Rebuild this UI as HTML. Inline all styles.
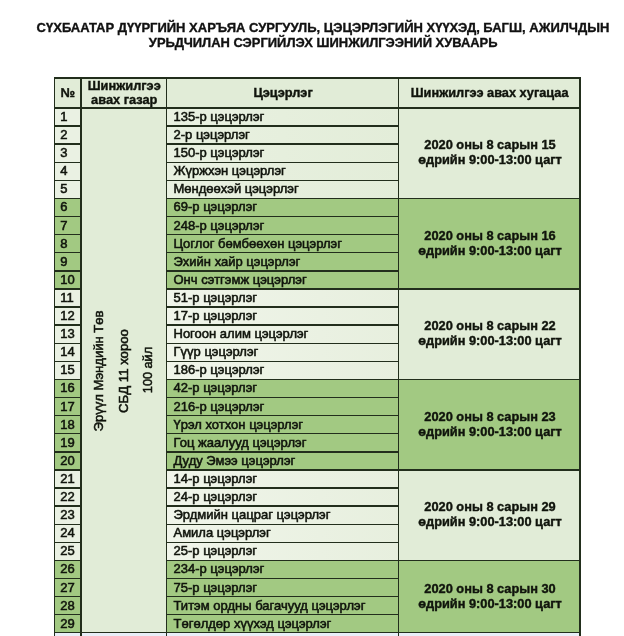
<!DOCTYPE html><html lang="mn"><head><meta charset="utf-8"><title>Хуваарь</title><style>
html,body{margin:0;padding:0;background:#fff}
body{width:624px;height:636px;position:relative;overflow:hidden;font-family:"Liberation Sans",Arial,sans-serif;color:#10140c}
.a{position:absolute}
.bg{position:absolute}
.ln{position:absolute;background:#222e1c}
.t{position:absolute;white-space:nowrap;line-height:1}
.title{left:0;width:646px;text-align:center;font-weight:bold;font-size:13px;color:#111;-webkit-text-stroke:0.35px #111}
.num{font-size:13px;left:60.2px;-webkit-text-stroke:0.55px #10140c}
.nm{font-size:13px;left:173.5px;-webkit-text-stroke:0.55px #10140c}
.hd{font-weight:bold;font-size:12.8px;text-align:center;-webkit-text-stroke:0.4px #10140c}
.dt{font-weight:bold;font-size:12.8px;-webkit-text-stroke:0.4px #10140c;text-align:center;left:398.7px;width:181.3px;margin-left:0.7px;line-height:15.2px}
.vt{position:absolute;white-space:nowrap;font-size:13px;-webkit-text-stroke:0.55px #10140c;line-height:1;transform:translate(-50%,-50%) rotate(-90deg);transform-origin:center}

</style></head><body>
<div class="t title" style="top:21px;transform:translateY(0.4px)">СҮХБААТАР ДҮҮРГИЙН ХАРЪЯА СУРГУУЛЬ, ЦЭЦЭРЛЭГИЙН ХҮҮХЭД, БАГШ, АЖИЛЧДЫН</div>
<div class="t title" style="top:37px;font-size:12.94px;transform:translate(0.2px,0.2px)">УРЬДЧИЛАН СЭРГИЙЛЭХ ШИНЖИЛГЭЭНИЙ ХУВААРЬ</div>
<div class="bg" style="left:54.4px;top:77.9px;width:525.6px;height:30.0px;background:#e1ecd7"></div>
<div class="bg" style="left:81.0px;top:108.0px;width:85.3px;height:524.8px;background:#e1ecd7"></div>
<div class="bg" style="left:54.4px;top:107.95px;width:26.6px;height:90.49px;background:#eaf1e3"></div>
<div class="bg" style="left:166.3px;top:107.95px;width:232.4px;height:90.49px;background:linear-gradient(90deg,#e9f1e1,#e3edd9)"></div>
<div class="bg" style="left:398.7px;top:107.95px;width:181.3px;height:90.49px;background:#e1ecd7"></div>
<div class="bg" style="left:54.4px;top:198.44px;width:26.6px;height:90.49px;background:#a2c982"></div>
<div class="bg" style="left:166.3px;top:198.44px;width:413.7px;height:90.49px;background:#a2c982"></div>
<div class="bg" style="left:54.4px;top:288.93px;width:26.6px;height:90.49px;background:#eaf1e3"></div>
<div class="bg" style="left:166.3px;top:288.93px;width:232.4px;height:90.49px;background:linear-gradient(90deg,#f0f5ea,#e7efde)"></div>
<div class="bg" style="left:398.7px;top:288.93px;width:181.3px;height:90.49px;background:#e1ecd7"></div>
<div class="bg" style="left:54.4px;top:379.42px;width:26.6px;height:90.49px;background:#a2c982"></div>
<div class="bg" style="left:166.3px;top:379.42px;width:413.7px;height:90.49px;background:#a2c982"></div>
<div class="bg" style="left:54.4px;top:469.91px;width:26.6px;height:90.49px;background:#eaf1e3"></div>
<div class="bg" style="left:166.3px;top:469.91px;width:232.4px;height:90.49px;background:linear-gradient(90deg,#f0f5ea,#e7efde)"></div>
<div class="bg" style="left:398.7px;top:469.91px;width:181.3px;height:90.49px;background:#e1ecd7"></div>
<div class="bg" style="left:54.4px;top:560.40px;width:26.6px;height:72.39px;background:#a2c982"></div>
<div class="bg" style="left:166.3px;top:560.40px;width:413.7px;height:72.39px;background:#a2c982"></div>
<div class="bg" style="left:54.4px;top:632.79px;width:525.6px;height:6px;background:#e9eff8"></div>
<div class="ln" style="left:53.70px;top:77.20px;width:1.40px;height:562.10px"></div>
<div class="ln" style="left:80.30px;top:77.20px;width:1.40px;height:562.10px"></div>
<div class="ln" style="left:165.60px;top:77.20px;width:1.40px;height:562.10px"></div>
<div class="ln" style="left:398.00px;top:77.20px;width:1.40px;height:562.10px"></div>
<div class="ln" style="left:579.30px;top:77.20px;width:1.40px;height:562.10px"></div>
<div class="ln" style="left:53.70px;top:77.20px;width:527.00px;height:1.40px"></div>
<div class="ln" style="left:53.70px;top:107.25px;width:527.00px;height:1.40px"></div>
<div class="ln" style="left:54.40px;top:125.35px;width:26.60px;height:1.40px"></div>
<div class="ln" style="left:166.30px;top:125.35px;width:232.40px;height:1.40px"></div>
<div class="ln" style="left:54.40px;top:143.45px;width:26.60px;height:1.40px"></div>
<div class="ln" style="left:166.30px;top:143.45px;width:232.40px;height:1.40px"></div>
<div class="ln" style="left:54.40px;top:161.54px;width:26.60px;height:1.40px"></div>
<div class="ln" style="left:166.30px;top:161.54px;width:232.40px;height:1.40px"></div>
<div class="ln" style="left:54.40px;top:179.64px;width:26.60px;height:1.40px"></div>
<div class="ln" style="left:166.30px;top:179.64px;width:232.40px;height:1.40px"></div>
<div class="ln" style="left:54.40px;top:197.74px;width:26.60px;height:1.40px"></div>
<div class="ln" style="left:166.30px;top:197.74px;width:413.70px;height:1.40px"></div>
<div class="ln" style="left:54.40px;top:215.84px;width:26.60px;height:1.40px"></div>
<div class="ln" style="left:166.30px;top:215.84px;width:232.40px;height:1.40px"></div>
<div class="ln" style="left:54.40px;top:233.94px;width:26.60px;height:1.40px"></div>
<div class="ln" style="left:166.30px;top:233.94px;width:232.40px;height:1.40px"></div>
<div class="ln" style="left:54.40px;top:252.03px;width:26.60px;height:1.40px"></div>
<div class="ln" style="left:166.30px;top:252.03px;width:232.40px;height:1.40px"></div>
<div class="ln" style="left:54.40px;top:270.13px;width:26.60px;height:1.40px"></div>
<div class="ln" style="left:166.30px;top:270.13px;width:232.40px;height:1.40px"></div>
<div class="ln" style="left:54.40px;top:288.23px;width:26.60px;height:1.40px"></div>
<div class="ln" style="left:166.30px;top:288.23px;width:413.70px;height:1.40px"></div>
<div class="ln" style="left:54.40px;top:306.33px;width:26.60px;height:1.40px"></div>
<div class="ln" style="left:166.30px;top:306.33px;width:232.40px;height:1.40px"></div>
<div class="ln" style="left:54.40px;top:324.43px;width:26.60px;height:1.40px"></div>
<div class="ln" style="left:166.30px;top:324.43px;width:232.40px;height:1.40px"></div>
<div class="ln" style="left:54.40px;top:342.52px;width:26.60px;height:1.40px"></div>
<div class="ln" style="left:166.30px;top:342.52px;width:232.40px;height:1.40px"></div>
<div class="ln" style="left:54.40px;top:360.62px;width:26.60px;height:1.40px"></div>
<div class="ln" style="left:166.30px;top:360.62px;width:232.40px;height:1.40px"></div>
<div class="ln" style="left:54.40px;top:378.72px;width:26.60px;height:1.40px"></div>
<div class="ln" style="left:166.30px;top:378.72px;width:413.70px;height:1.40px"></div>
<div class="ln" style="left:54.40px;top:396.82px;width:26.60px;height:1.40px"></div>
<div class="ln" style="left:166.30px;top:396.82px;width:232.40px;height:1.40px"></div>
<div class="ln" style="left:54.40px;top:414.92px;width:26.60px;height:1.40px"></div>
<div class="ln" style="left:166.30px;top:414.92px;width:232.40px;height:1.40px"></div>
<div class="ln" style="left:54.40px;top:433.01px;width:26.60px;height:1.40px"></div>
<div class="ln" style="left:166.30px;top:433.01px;width:232.40px;height:1.40px"></div>
<div class="ln" style="left:54.40px;top:451.11px;width:26.60px;height:1.40px"></div>
<div class="ln" style="left:166.30px;top:451.11px;width:232.40px;height:1.40px"></div>
<div class="ln" style="left:54.40px;top:469.21px;width:26.60px;height:1.40px"></div>
<div class="ln" style="left:166.30px;top:469.21px;width:413.70px;height:1.40px"></div>
<div class="ln" style="left:54.40px;top:487.31px;width:26.60px;height:1.40px"></div>
<div class="ln" style="left:166.30px;top:487.31px;width:232.40px;height:1.40px"></div>
<div class="ln" style="left:54.40px;top:505.41px;width:26.60px;height:1.40px"></div>
<div class="ln" style="left:166.30px;top:505.41px;width:232.40px;height:1.40px"></div>
<div class="ln" style="left:54.40px;top:523.50px;width:26.60px;height:1.40px"></div>
<div class="ln" style="left:166.30px;top:523.50px;width:232.40px;height:1.40px"></div>
<div class="ln" style="left:54.40px;top:541.60px;width:26.60px;height:1.40px"></div>
<div class="ln" style="left:166.30px;top:541.60px;width:232.40px;height:1.40px"></div>
<div class="ln" style="left:54.40px;top:559.70px;width:26.60px;height:1.40px"></div>
<div class="ln" style="left:166.30px;top:559.70px;width:413.70px;height:1.40px"></div>
<div class="ln" style="left:54.40px;top:577.80px;width:26.60px;height:1.40px"></div>
<div class="ln" style="left:166.30px;top:577.80px;width:232.40px;height:1.40px"></div>
<div class="ln" style="left:54.40px;top:595.90px;width:26.60px;height:1.40px"></div>
<div class="ln" style="left:166.30px;top:595.90px;width:232.40px;height:1.40px"></div>
<div class="ln" style="left:54.40px;top:613.99px;width:26.60px;height:1.40px"></div>
<div class="ln" style="left:166.30px;top:613.99px;width:232.40px;height:1.40px"></div>
<div class="ln" style="left:54.40px;top:632.09px;width:525.60px;height:1.40px"></div>
<div class="t hd" style="left:54.4px;width:26.6px;top:87.3px">№</div>
<div class="t hd" style="left:81.6px;width:85.3px;top:79px;line-height:13.7px">Шинжилгээ<br>авах газар</div>
<div class="t hd" style="left:166.9px;width:232.4px;top:87px">Цэцэрлэг</div>
<div class="t hd" style="left:399.0px;width:181.3px;top:87.3px;font-size:12.75px">Шинжилгээ авах хугацаа</div>
<div class="t num" style="top:109.95px">1</div>
<div class="t nm" style="top:109.95px">135-р цэцэрлэг</div>
<div class="t num" style="top:128.05px">2</div>
<div class="t nm" style="top:128.05px">2-р цэцэрлэг</div>
<div class="t num" style="top:146.15px">3</div>
<div class="t nm" style="top:146.15px">150-р цэцэрлэг</div>
<div class="t num" style="top:164.24px">4</div>
<div class="t nm" style="top:164.24px">Жүржхэн цэцэрлэг</div>
<div class="t num" style="top:182.34px">5</div>
<div class="t nm" style="top:182.34px">Мөндөөхэй цэцэрлэг</div>
<div class="t num" style="top:200.44px">6</div>
<div class="t nm" style="top:200.44px">69-р цэцэрлэг</div>
<div class="t num" style="top:218.54px">7</div>
<div class="t nm" style="top:218.54px">248-р цэцэрлэг</div>
<div class="t num" style="top:236.64px">8</div>
<div class="t nm" style="top:236.64px">Цоглог бөмбөөхөн цэцэрлэг</div>
<div class="t num" style="top:254.73px">9</div>
<div class="t nm" style="top:254.73px">Эхийн хайр цэцэрлэг</div>
<div class="t num" style="top:272.83px">10</div>
<div class="t nm" style="top:272.83px">Онч сэтгэмж цэцэрлэг</div>
<div class="t num" style="top:290.93px">11</div>
<div class="t nm" style="top:290.93px">51-р цэцэрлэг</div>
<div class="t num" style="top:309.03px">12</div>
<div class="t nm" style="top:309.03px">17-р цэцэрлэг</div>
<div class="t num" style="top:327.13px">13</div>
<div class="t nm" style="top:327.13px">Ногоон алим цэцэрлэг</div>
<div class="t num" style="top:345.22px">14</div>
<div class="t nm" style="top:345.22px">Гүүр цэцэрлэг</div>
<div class="t num" style="top:363.32px">15</div>
<div class="t nm" style="top:363.32px">186-р цэцэрлэг</div>
<div class="t num" style="top:381.42px">16</div>
<div class="t nm" style="top:381.42px">42-р цэцэрлэг</div>
<div class="t num" style="top:399.52px">17</div>
<div class="t nm" style="top:399.52px">216-р цэцэрлэг</div>
<div class="t num" style="top:417.62px">18</div>
<div class="t nm" style="top:417.62px">Үрэл хотхон цэцэрлэг</div>
<div class="t num" style="top:435.71px">19</div>
<div class="t nm" style="top:435.71px">Гоц жаалууд цэцэрлэг</div>
<div class="t num" style="top:453.81px">20</div>
<div class="t nm" style="top:453.81px">Дуду Эмээ цэцэрлэг</div>
<div class="t num" style="top:471.91px">21</div>
<div class="t nm" style="top:471.91px">14-р цэцэрлэг</div>
<div class="t num" style="top:490.01px">22</div>
<div class="t nm" style="top:490.01px">24-р цэцэрлэг</div>
<div class="t num" style="top:508.11px">23</div>
<div class="t nm" style="top:508.11px">Эрдмийн цацраг цэцэрлэг</div>
<div class="t num" style="top:526.20px">24</div>
<div class="t nm" style="top:526.20px">Амила цэцэрлэг</div>
<div class="t num" style="top:544.30px">25</div>
<div class="t nm" style="top:544.30px">25-р цэцэрлэг</div>
<div class="t num" style="top:562.40px">26</div>
<div class="t nm" style="top:562.40px">234-р цэцэрлэг</div>
<div class="t num" style="top:580.50px">27</div>
<div class="t nm" style="top:580.50px">75-р цэцэрлэг</div>
<div class="t num" style="top:598.60px">28</div>
<div class="t nm" style="top:598.60px">Титэм ордны багачууд цэцэрлэг</div>
<div class="t num" style="top:616.69px">29</div>
<div class="t nm" style="top:616.69px">Төгөлдөр хүүхэд цэцэрлэг</div>
<div class="t dt" style="top:137.29px">2020 оны 8 сарын 15<br>өдрийн 9:00-13:00 цагт</div>
<div class="t dt" style="top:227.78px">2020 оны 8 сарын 16<br>өдрийн 9:00-13:00 цагт</div>
<div class="t dt" style="top:318.27px">2020 оны 8 сарын 22<br>өдрийн 9:00-13:00 цагт</div>
<div class="t dt" style="top:408.76px">2020 оны 8 сарын 23<br>өдрийн 9:00-13:00 цагт</div>
<div class="t dt" style="top:499.25px">2020 оны 8 сарын 29<br>өдрийн 9:00-13:00 цагт</div>
<div class="t dt" style="top:580.70px">2020 оны 8 сарын 30<br>өдрийн 9:00-13:00 цагт</div>
<div class="vt" style="left:98.7px;top:370.6px;font-size:13.05px">Эрүүл Мэндийн Төв</div>
<div class="vt" style="left:124.2px;top:370.9px;font-size:13.20px">СБД 11 хороо</div>
<div class="vt" style="left:147.6px;top:369.5px;font-size:12.70px">100 айл</div>
</body></html>
